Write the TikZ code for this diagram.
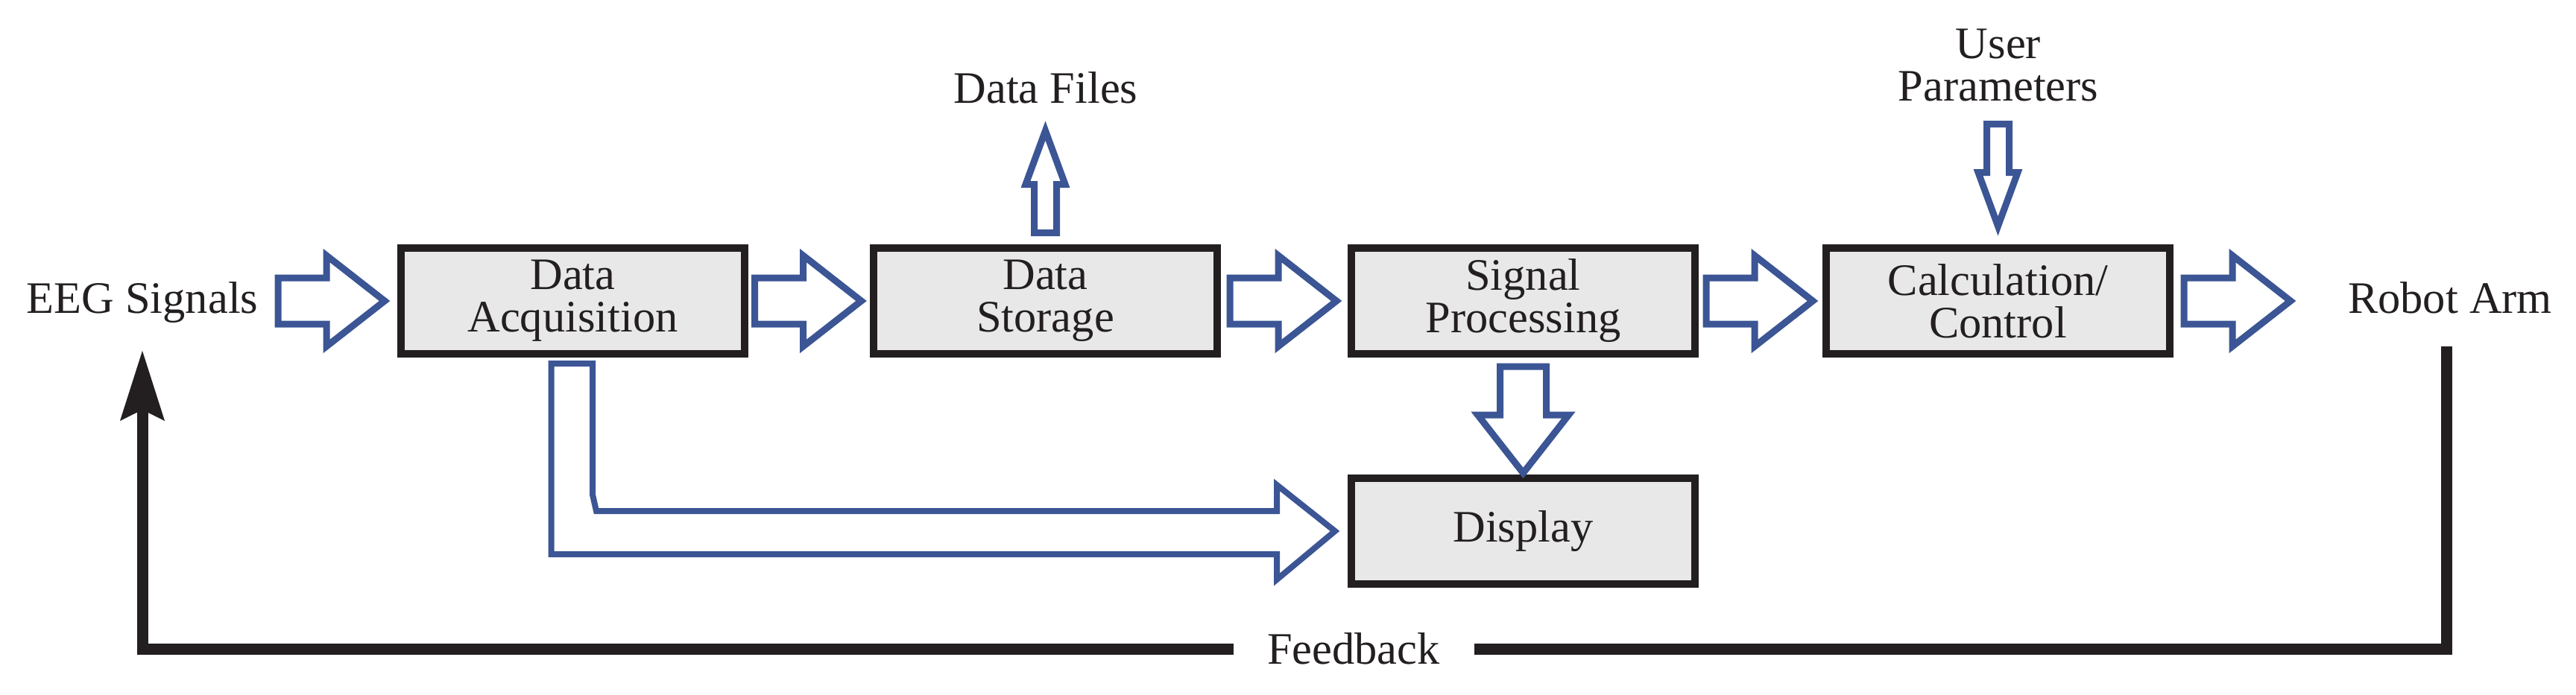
\documentclass[tikz,border=0pt]{standalone}
\usepackage{fontspec}
\setmainfont{Liberation Serif}
\definecolor{PanelBlue}{RGB}{59,85,149}
\definecolor{BoxGray}{RGB}{232,232,232}
\definecolor{InkBlack}{RGB}{35,31,32}
\usepackage{tikz}
\usetikzlibrary{arrows.meta, positioning, calc}
\newcommand{\diafont}{\fontsize{17.2}{16.2}\selectfont}
\tikzset{
	wideblk/.pic={\draw[blkline] (-0.73,0.31) -- (-0.08,0.31) -- (-0.08,0.61) -- (0.70,0) -- (-0.08,-0.61) -- (-0.08,-0.31) -- (-0.73,-0.31) -- cycle;},
	thinblk/.pic={\draw[blkline] (-0.73,0.15) -- (-0.08,0.15) -- (-0.08,0.265) -- (0.64,0) -- (-0.08,-0.265) -- (-0.08,-0.15) -- (-0.73,-0.15) -- cycle;}
}

\begin{document}
\begin{tikzpicture}[
	box/.style={draw=InkBlack, fill=BoxGray, line width=1mm, minimum width=4.61cm, minimum height=1.42cm, inner sep=0pt, align=center, font=\diafont, text=InkBlack},
	lbl/.style={align=center, font=\diafont, text=InkBlack},
	blkline/.style={draw=PanelBlue, line width=0.9mm, fill=white},
	fbline/.style={draw=InkBlack, line width=1.5mm}]
\useasboundingbox (0,0) rectangle (34.56,-9.32);
\node[lbl] (eeg) at (1.91,-4.06){EEG Signals};
\node[box] (daq) at (7.685,-4.04){Data\\Acquisition};
\node[box] (ds) at (14.025,-4.04){Data\\Storage};
\node[box] (sp) at (20.435,-4.04){Signal\\Processing};
\node[box] (cc) at (26.805,-4.04){Calculation/\\Control};
\node[box, below=1.57cm of sp] (disp){Display};
\node[lbl] (arm) at (32.87,-4.00){Robot Arm};
\node[lbl] (files) at (14.03,-1.18){Data Files};
\node[lbl] (user) at (26.81,-0.875){User\\Parameters};
\node[lbl, inner xsep=0.45cm] (fb) at (18.16,-8.71){Feedback};
\pic at ($(daq.west)+(-0.87,0)$) {wideblk};
\pic at ($(daq.east)!0.5!(ds.west)$) {wideblk};
\pic at ($(ds.east)!0.5!(sp.west)$) {wideblk};
\pic at ($(sp.east)!0.5!(cc.west)$) {wideblk};
\pic at ($(cc.east)+(0.87,0)$) {wideblk};
\pic[rotate=90] at ($(ds.north)+(0,0.885)$) {thinblk};
\pic[rotate=-90] at ($(cc.north)+(0,0.885)$) {thinblk};
\pic[rotate=-90] at ($(sp.south)+(0,-0.85)$) {wideblk};
\draw[blkline, line width=0.8mm] ($(daq.south)+(-0.29,-0.08)$) |- ($(disp.west)+(-0.95,-0.31)$) -- ++(0,-0.34) -- ($(disp.west)+(-0.17,0)$) -- ($(disp.west)+(-0.95,0.62)$) -- ++(0,-0.35) -- ($(daq.south |- disp.west)+(0.315,0.27)$) -- ($(daq.south |- disp.west)+(0.265,0.49)$) -- ($(daq.south)+(0.265,-0.08)$) -- cycle;
\draw[fbline] ($(arm.center)+(-0.05,-0.65)$) |- (fb.east);
\draw[fbline, -{Stealth[length=9.3mm, width=5.7mm, inset=1.3mm]}] (fb.west) -| ($(eeg.center)+(0,-0.64)$);
\end{tikzpicture}
\end{document}
